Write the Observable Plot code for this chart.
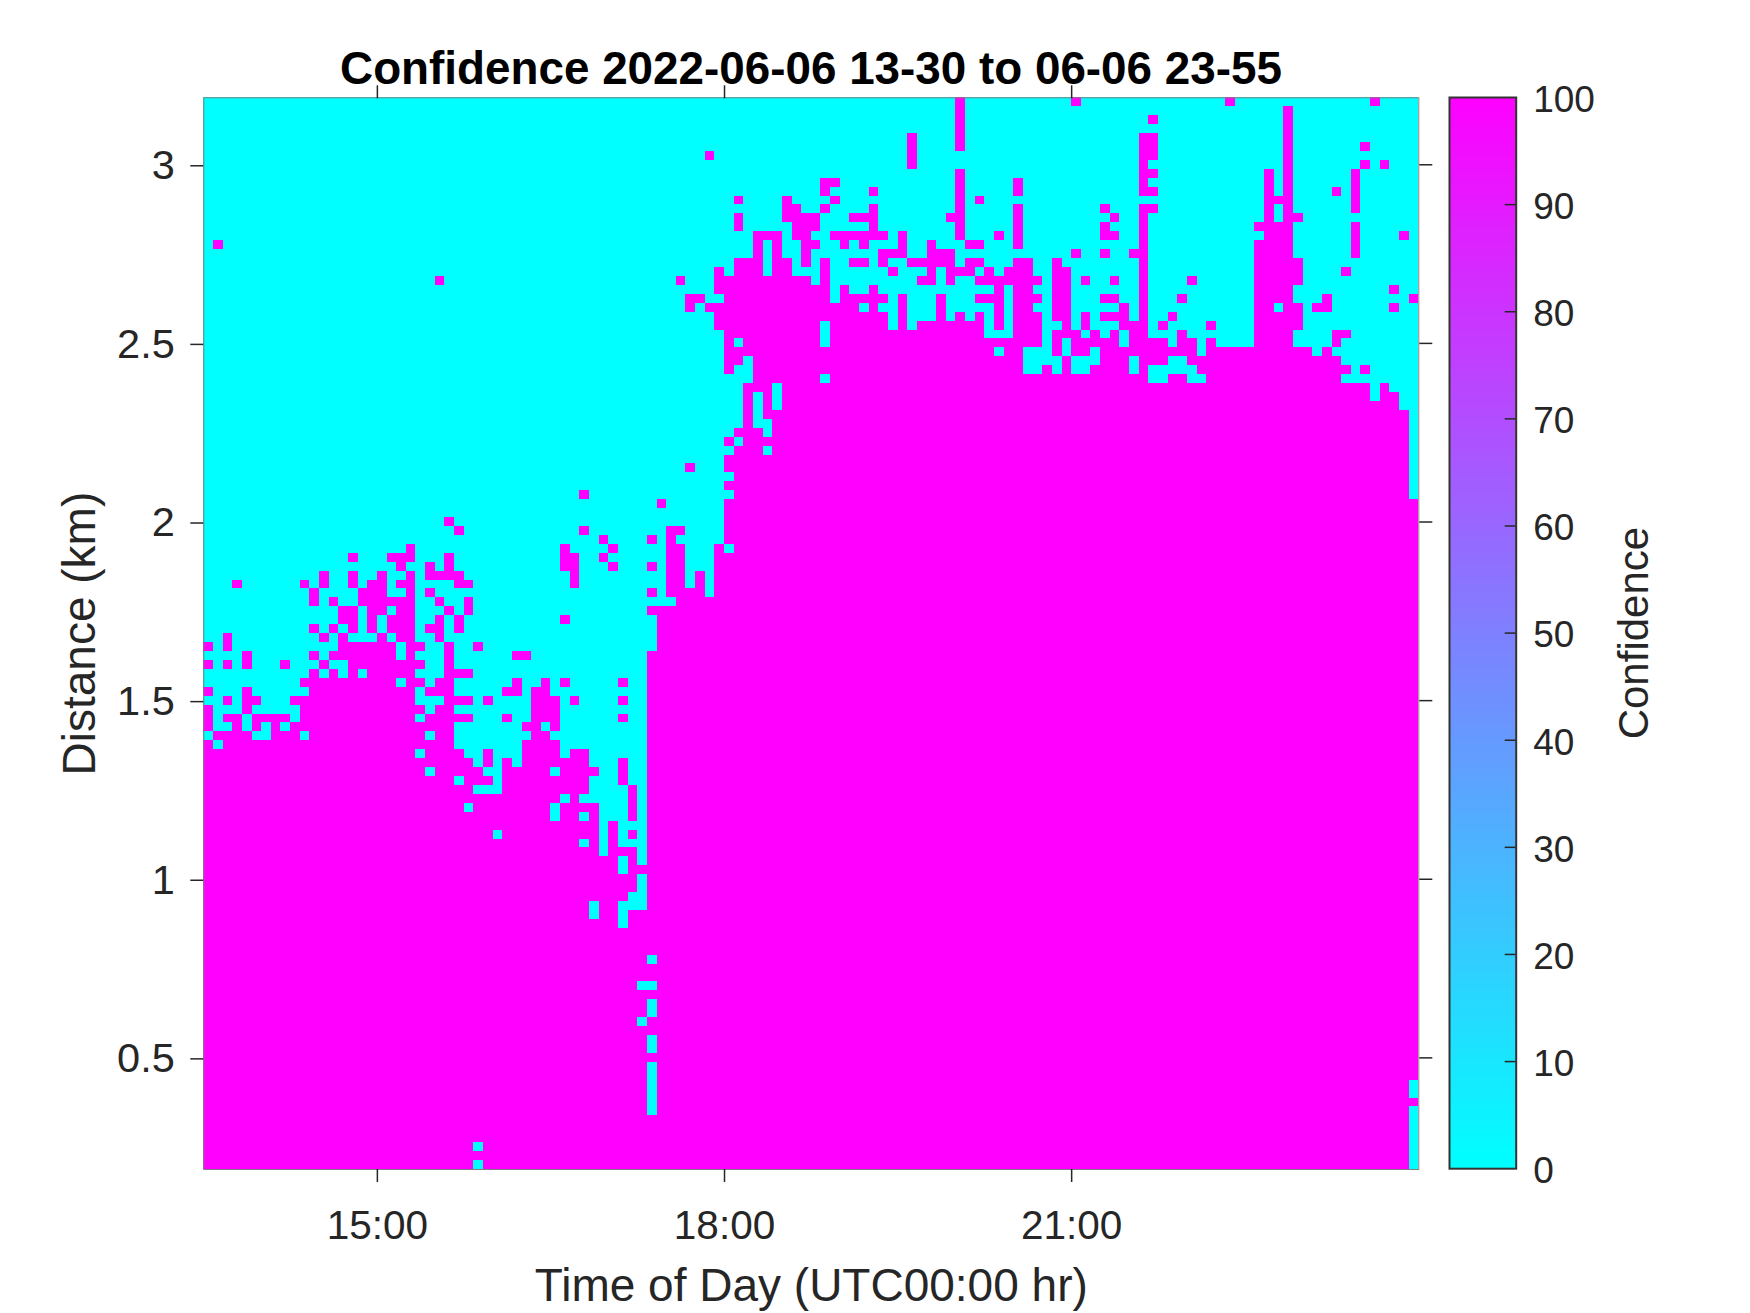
<!DOCTYPE html>
<html>
<head>
<meta charset="utf-8">
<script src="https://cdn.jsdelivr.net/npm/d3@7"></script>
<script src="https://cdn.jsdelivr.net/npm/@observablehq/plot@0.6"></script>
<style>
  html, body { margin: 0; padding: 0; background: #fff; }
  #page { position: relative; width: 1750px; height: 1313px; overflow: hidden; font-family: "Liberation Sans", Arial, sans-serif; }
  #title { position: absolute; left: 0; top: 44px; width: 1622px; text-align: center; font-weight: bold; font-size: 45.8px; line-height: 50px; color: #000; white-space: nowrap; }
  #main, #bar { position: absolute; top: 84px; }
  #main { left: 0; }
  #bar { left: 1435px; }
  svg { display: block; overflow: visible; }
</style>
</head>
<body>
<div id="page">
  <div id="title">Confidence 2022-06-06 13-30 to 06-06 23-55</div>
  <div id="main"></div>
  <div id="bar"></div>
</div>
<script>
const xLabel = "Time of Day (UTC00:00 hr)";
const yLabel = "Distance (km)";
const barLabel = "Confidence";
const hourTicks = [15, 18, 21];
const kmTicks = [0.5, 1, 1.5, 2, 2.5, 3];
const barTicks = [0, 10, 20, 30, 40, 50, 60, 70, 80, 90, 100];
const startHour = 13.5;
const stepHour = 1 / 12;
const columnCount = 126;
const topKm = 3.1875;
const stepKm = 0.025;
const lowColor = "#00ffff";
const highColor = "#ff00ff";

// Each entry is one range gate, from the farthest down to the nearest;
// it lists the 5-minute columns whose confidence is 100 (all others are 0).
const highConfidenceRuns = [
  "78 90 106 121",
  "78 112",
  "78 98 112",
  "78 112",
  "73 78 97-98 112",
  "73 78 97-98 112 120",
  "52 73 97-98 112",
  "73 97 112 120 122",
  "78 97-98 110 112 119",
  "64-65 78 84 97 110 112 119",
  "64 69 78 84 97-98 110 112 117 119",
  "55 60 65 78 80 110-112 119",
  "60-61 64 69 78 84 93 97-98 110 112 119",
  "55 60-63 67-69 77-78 84 94 97 110 112-113",
  "55 61-63 69 78 84 93 97 109-112 119",
  "57-59 61-62 65-70 72 78 82 84 93-94 97 110-112 119 124",
  "1 57 59 62-63 66 68 72 75 79-80 84 97 109-112 119",
  "57 59 62 70-72 75-77 90 93 96-97 109-112 119",
  "55-57 59-60 62 64 67-68 70 73-77 79-80 84-85 88 97 109-113",
  "53 55-57 59-60 64 71 75 77-79 81 83-85 88-89 97 109-113 118",
  "24 49 53-62 64 74-75 77 80-86 88-89 91 94 97 102 109-113",
  "53-64 66 69 82 84-85 88-89 97 109-112 123",
  "50-51 54-64 66-70 72 76 80-82 84-86 88-89 93-94 97 101 109-112 116 125",
  "50 52-67 69 72 76 82 84-85 88-89 95 97 109-110 112-113 115-116 123",
  "53-70 72 76 78 80 82 84-86 88-89 91 93-95 97 100 109-113",
  "53-63 65-70 72 74-80 82 84-86 89 91 95-97 99 104 109-113",
  "54-63 65-80 84-86 88-90 92 94 96-97 101 109-112 117-118",
  "54 56-63 65-86 88 90-94 96-99 101-102 104 109-112 117",
  "54-81 83-84 88 90-91 93-102 104-114 116",
  "54-55 57-84 89 93-95 97-99 102-117",
  "54 57-84 87 89 92-95 97 103-118 120",
  "57-63 65-97 100-101 104-117",
  "56-58 60-120 122",
  "56 58 60-120 122-123",
  "56 58 60-123",
  "56 58-124",
  "56 59-124",
  "55-57 59-124",
  "54 56-124",
  "55-57 59-124",
  "54-124",
  "50 54-124",
  "55-124",
  "54-124",
  "39 55-124",
  "47 54-125",
  "54-125",
  "25 54-125",
  "26 39 48-49 54-125",
  "41 46 48 54-125",
  "21 37 42 48-49 53 55-125",
  "15 19-21 25 37-38 41 48-49 53-125",
  "20 23 25 37-38 42 46 48-49 53-125",
  "12 15 18 21 23-26 38 48-49 51 53-125",
  "3 10 12 15 17-18 20-21 26-27 38 48-49 51 53-125",
  "11 16-18 21 23 46 48-51 53-125",
  "11 13 16-21 24 27 49-125",
  "14-15 17-18 20-21 25 27 46-125",
  "14-15 17 19-21 24 26 37 47-125",
  "11 13 15 17 19-21 23-24 26 47-125",
  "2 12 14 18 20-21 24 47-125",
  "0 2 14-19 21-22 25 28 47-125",
  "4 11 13-19 21 25 32-33 46-125",
  "0 2 4 8 12 15-22 25 46-125",
  "11 13 15 17-21 25-27 46-125",
  "10-19 21-22 24-25 32 35 37 43 46-125",
  "0 4 11-21 23-25 31-32 34-35 46-125",
  "2 4-5 9-21 25-27 29 34-36 38 43 46-125",
  "0 4 10-22 24-25 34-36 46-125",
  "0 2-3 5-8 10-21 23-27 31 34-36 43 46-125",
  "0 3 5 7 9-25 33-34 36 46-125",
  "1-4 7-9 11-22 24-25 34-35 46-125",
  "0 2-25 33-36 46-125",
  "0-21 23-26 29 33-36 38-39 46-125",
  "0-27 29 31 33-39 43 46-125",
  "0-22 24-28 31-35 37-40 43 46-125",
  "0-25 27-29 31-39 43 46-125",
  "0-27 31-39 44 46-125",
  "0-36 38 44 46-125",
  "0-26 28-35 37-40 44 46-125",
  "0-35 37-38 40 44 46-125",
  "0-40 42 46-125",
  "0-29 31-40 42 44 46-125",
  "0-38 40 42 46-125",
  "0-40 42-44 46-125",
  "0-42 44 46-125",
  "0-42 44-125",
  "0-44 46-125",
  "0-44 46-125",
  "0-43 46-125",
  "0-39 41-42 46-125",
  "0-39 41-42 44-125",
  "0-42 44-125",
  "0-125",
  "0-125",
  "0-125",
  "0-45 47-125",
  "0-125",
  "0-125",
  "0-44 47-125",
  "0-125",
  "0-45 47-125",
  "0-45 47-125",
  "0-44 46-125",
  "0-125",
  "0-45 47-125",
  "0-45 47-125",
  "0-125",
  "0-45 47-125",
  "0-45 47-125",
  "0-45 47-124",
  "0-45 47-124",
  "0-45 47-125",
  "0-45 47-124",
  "0-124",
  "0-124",
  "0-124",
  "0-27 29-124",
  "0-124",
  "0-27 29-124"
];

const cells = [];
highConfidenceRuns.forEach((runs, gate) => {
  const high = new Set();
  runs.split(" ").forEach(run => {
    const [a, b = a] = run.split("-").map(Number);
    for (let c = a; c <= b; c++) high.add(c);
  });
  for (let c = 0; c < columnCount; c++) {
    cells.push({
      hour: startHour + c * stepHour,
      km: topKm - gate * stepKm,
      value: high.has(c) ? 100 : 0
    });
  }
});

const ink = "#262626";
const color = { type: "linear", domain: [0, 100], range: [lowColor, highColor] };
const fontFamily = '"Liberation Sans", Arial, sans-serif';

const main = Plot.plot({
  width: 1435,
  height: 1229,
  marginLeft: 203.3,
  marginRight: 16.7,
  marginTop: 13.3,
  marginBottom: 144,
  style: { fontFamily, background: "transparent", overflow: "visible" },
  x: { domain: [startHour, startHour + columnCount * stepHour] },
  y: { domain: [topKm - highConfidenceRuns.length * stepKm, topKm] },
  color,
  marks: [
    Plot.rect(cells, {
      x1: "hour",
      x2: d => d.hour + stepHour,
      y1: d => d.km - stepKm,
      y2: "km",
      fill: "value",
      shapeRendering: "crispEdges"
    }),
    Plot.frame({ stroke: "#7f7f7f", strokeWidth: 1 }),
    Plot.axisX(hourTicks, {
      anchor: "bottom",
      tickSize: 13,
      tickPadding: 28,
      fontSize: 40.5,
      color: ink,
      strokeWidth: 1.5,
      tickFormat: d => `${d}:00`,
      label: null
    }),
    Plot.axisX(hourTicks, { anchor: "top", tickSize: 13, color: ink, strokeWidth: 1.5, fill: "none", label: null }),
    Plot.axisY(kmTicks, {
      anchor: "left",
      tickSize: 13,
      tickPadding: 16,
      fontSize: 41.5,
      dy: 1,
      color: ink,
      strokeWidth: 1.5,
      tickFormat: d => String(d),
      label: null
    }),
    Plot.axisY(kmTicks, { anchor: "right", tickSize: 13, color: ink, strokeWidth: 1.5, fill: "none", label: null }),
    Plot.text([xLabel], {
      text: d => d,
      frameAnchor: "bottom",
      lineAnchor: "middle",
      textAnchor: "middle",
      dy: 116.6,
      fontSize: 46,
      fill: ink
    }),
    Plot.text([yLabel], {
      text: d => d,
      frameAnchor: "left",
      lineAnchor: "middle",
      textAnchor: "middle",
      rotate: -90,
      dx: -124,
      fontSize: 46,
      fill: ink
    })
  ]
});
document.getElementById("main").appendChild(main);

const barLevels = d3.range(0, 256).map(i => i / 255 * 100);
const bar = Plot.plot({
  width: 315,
  height: 1229,
  marginLeft: 14,
  marginRight: 234.3,
  marginTop: 13,
  marginBottom: 144.8,
  style: { fontFamily, background: "transparent", overflow: "visible" },
  y: { domain: [0, 100] },
  color,
  marks: [
    Plot.rectY(barLevels, {
      y1: d => d,
      y2: d => Math.min(100, d + 100 / 255),
      fill: d => d,
      shapeRendering: "crispEdges"
    }),
    Plot.tickY(barTicks.slice(1, -1), { y: d => d, stroke: ink, strokeWidth: 1.5, insetLeft: 55.7 }),
    Plot.frame({ stroke: "#333333", strokeWidth: 2 }),
    Plot.axisY(barTicks, {
      anchor: "right",
      tickSize: 0,
      tickPadding: 17,
      fontSize: 37,
      dy: 2.5,
      color: ink,
      label: null
    }),
    Plot.text([barLabel], {
      text: d => d,
      frameAnchor: "right",
      lineAnchor: "middle",
      textAnchor: "middle",
      rotate: -90,
      dx: 118,
      fontSize: 42,
      fill: ink
    })
  ]
});
document.getElementById("bar").appendChild(bar);
</script>
</body>
</html>
